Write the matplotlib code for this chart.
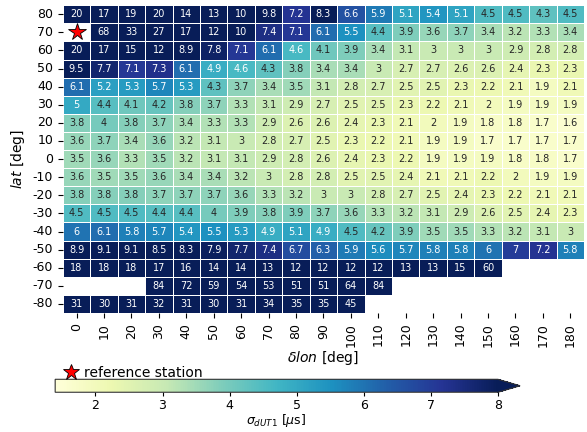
import numpy as np
import matplotlib
matplotlib.use("Agg")
import matplotlib.pyplot as plt
from matplotlib.lines import Line2D
import seaborn as sns

# ==========================================
# DATA
# ==========================================
lats = [80, 70, 60, 50, 40, 30, 20, 10, 0, -10, -20, -30, -40, -50, -60, -70, -80]
dlons = [0, 10, 20, 30, 40, 50, 60, 70, 80, 90, 100, 110, 120, 130, 140, 150, 160, 170, 180]
ref_lat, ref_dlon = 70, 0
nan = np.nan

sigma_dut1 = [
    [20, 17, 19, 20, 14, 13, 10, 9.8, 7.2, 8.3, 6.6, 5.9, 5.1, 5.4, 5.1, 4.5, 4.5, 4.3, 4.5],
    [nan, 68, 33, 27, 17, 12, 10, 7.4, 7.1, 6.1, 5.5, 4.4, 3.9, 3.6, 3.7, 3.4, 3.2, 3.3, 3.4],
    [20, 17, 15, 12, 8.9, 7.8, 7.1, 6.1, 4.6, 4.1, 3.9, 3.4, 3.1, 3, 3, 3, 2.9, 2.8, 2.8],
    [9.5, 7.7, 7.1, 7.3, 6.1, 4.9, 4.6, 4.3, 3.8, 3.4, 3.4, 3, 2.7, 2.7, 2.6, 2.6, 2.4, 2.3, 2.3],
    [6.1, 5.2, 5.3, 5.7, 5.3, 4.3, 3.7, 3.4, 3.5, 3.1, 2.8, 2.7, 2.5, 2.5, 2.3, 2.2, 2.1, 1.9, 2.1],
    [5, 4.4, 4.1, 4.2, 3.8, 3.7, 3.3, 3.1, 2.9, 2.7, 2.5, 2.5, 2.3, 2.2, 2.1, 2, 1.9, 1.9, 1.9],
    [3.8, 4, 3.8, 3.7, 3.4, 3.3, 3.3, 2.9, 2.6, 2.6, 2.4, 2.3, 2.1, 2, 1.9, 1.8, 1.8, 1.7, 1.6],
    [3.6, 3.7, 3.4, 3.6, 3.2, 3.1, 3, 2.8, 2.7, 2.5, 2.3, 2.2, 2.1, 1.9, 1.9, 1.7, 1.7, 1.7, 1.7],
    [3.5, 3.6, 3.3, 3.5, 3.2, 3.1, 3.1, 2.9, 2.8, 2.6, 2.4, 2.3, 2.2, 1.9, 1.9, 1.9, 1.8, 1.8, 1.7],
    [3.6, 3.5, 3.5, 3.6, 3.4, 3.4, 3.2, 3, 2.8, 2.8, 2.5, 2.5, 2.4, 2.1, 2.1, 2.2, 2, 1.9, 1.9],
    [3.8, 3.8, 3.8, 3.7, 3.7, 3.7, 3.6, 3.3, 3.2, 3, 3, 2.8, 2.7, 2.5, 2.4, 2.3, 2.2, 2.1, 2.1],
    [4.5, 4.5, 4.5, 4.4, 4.4, 4, 3.9, 3.8, 3.9, 3.7, 3.6, 3.3, 3.2, 3.1, 2.9, 2.6, 2.5, 2.4, 2.3],
    [6, 6.1, 5.8, 5.7, 5.4, 5.5, 5.3, 4.9, 5.1, 4.9, 4.5, 4.2, 3.9, 3.5, 3.5, 3.3, 3.2, 3.1, 3],
    [8.9, 9.1, 9.1, 8.5, 8.3, 7.9, 7.7, 7.4, 6.7, 6.3, 5.9, 5.6, 5.7, 5.8, 5.8, 6, 7, 7.2, 5.8],
    [18, 18, 18, 17, 16, 14, 14, 13, 12, 12, 12, 12, 13, 13, 15, 60, nan, nan, nan],
    [nan, nan, nan, 84, 72, 59, 54, 53, 51, 51, 64, 84, nan, nan, nan, nan, nan, nan, nan],
    [31, 30, 31, 32, 31, 30, 31, 34, 35, 35, 45, nan, nan, nan, nan, nan, nan, nan, nan],
]

data = np.array(sigma_dut1, dtype=float)

# ==========================================
# PLOT
# ==========================================
fig = plt.figure(figsize=(5.87, 4.32), dpi=100)
ax = fig.add_axes([0.107, 0.2755, 0.888, 0.7125])
cax = fig.add_axes([0.094, 0.092, 0.792, 0.030])

sns.heatmap(
    data, ax=ax, cbar_ax=cax, cmap="YlGnBu",
    vmin=1.4, vmax=8,
    annot=True, fmt=".2g", annot_kws={"fontsize": 7},
    linewidths=0.6, linecolor="white",
    xticklabels=dlons, yticklabels=lats,
    cbar_kws={"orientation": "horizontal", "extend": "max"},
)

# reference station marker
iy = lats.index(ref_lat)
ix = dlons.index(ref_dlon)
ax.plot(ix + 0.5, iy + 0.5, marker="*", color="red", markeredgecolor="black",
        markeredgewidth=0.6, markersize=13, linestyle="none")

ax.tick_params(axis="x", labelrotation=90, labelsize=9)
ax.tick_params(axis="y", labelrotation=0, labelsize=9)
ax.set_xlabel(r"$\delta lon$ [deg]", fontsize=10, labelpad=2)
ax.set_ylabel(r"$lat$ [deg]", fontsize=10)

cbar = ax.collections[0].colorbar
cbar.outline.set_linewidth(0.8)
cbar.outline.set_edgecolor("#333333")
cbar.ax.tick_params(labelsize=9, length=3, pad=1.5)
cbar.set_label(r"$\sigma_{dUT1}$ [$\mu$s]", fontsize=9, labelpad=0)

star = Line2D([], [], marker="*", color="red", markeredgecolor="black",
              markeredgewidth=0.6, markersize=12, linestyle="none")
fig.legend([star], ["reference station"], loc="center left",
           bbox_to_anchor=(0.095, 0.137), frameon=False, fontsize=10,
           handletextpad=0.3, borderpad=0, handlelength=1.2)

fig.savefig("out.png", dpi=100)
